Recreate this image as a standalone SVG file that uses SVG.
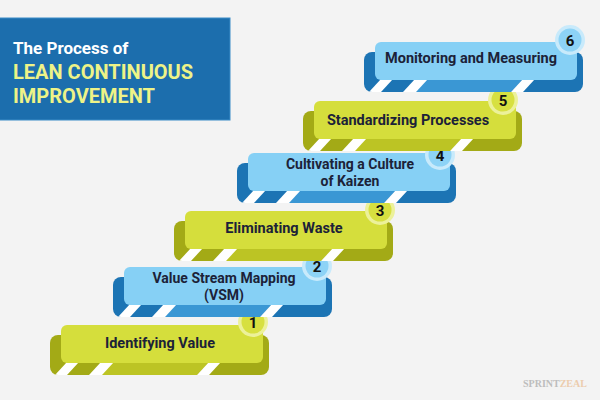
<svg xmlns="http://www.w3.org/2000/svg" width="600" height="400" viewBox="0 0 600 400">
<defs>
<clipPath id="band"><rect x="-11" y="10" width="219" height="40" rx="8"/></clipPath>
<style>
.lbl{font-family:Roboto,"Liberation Sans",sans-serif;font-weight:700;font-size:14.5px;text-anchor:middle;fill:#1c2238}
.sm{font-size:14px}
.num{font-family:Roboto,"Liberation Sans",sans-serif;font-weight:700;font-size:15px;text-anchor:middle;fill:#111}
.wh{fill:#ffffff}
.olive .back{fill:#a3aa16}
.olive .mid{fill:#bcc424}
.olive .front{fill:#d5de3c}
.olive .ring{fill:#ecf19a}
.olive .inner{fill:#d7e040}
.blue .back{fill:#1c74b4}
.blue .mid{fill:#3a97d4}
.blue .front{fill:#86d0f5}
.blue .ring{fill:#c8eafb}
.blue .inner{fill:#8dd3f6}
.ttl{font-family:Roboto,"Liberation Sans",sans-serif;font-weight:700}
</style>
</defs>
<rect x="0" y="0" width="600" height="400" fill="#f3f3f3"/>

<g id="title">
<rect x="-1" y="18" width="231" height="102" fill="#1c6ead" stroke="#3b8cc7" stroke-width="1"/>
<text class="ttl" x="13" y="54" font-size="17" fill="#ffffff">The Process of</text>
<text class="ttl" x="13" y="79" font-size="20" fill="#eef387">LEAN CONTINUOUS</text>
<text class="ttl" x="13" y="103" font-size="20" fill="#eef387">IMPROVEMENT</text>
</g>

<g id="step1" class="olive" transform="translate(61,325)">
<rect class="back" x="-11" y="10" width="219" height="40" rx="8"/>
<g clip-path="url(#band)">
<polygon class="mid" points="40,50 52,37 148,37 136,50"/>
<polygon class="wh" points="-6,50 6,37 18,37 6,50"/>
<polygon class="wh" points="28,50 40,37 53,37 41,50"/>
<polygon class="wh" points="136,50 148,37 160,37 148,50"/>
</g>
<rect class="front" x="0" y="0" width="202" height="38" rx="6"/>
<text class="lbl" x="99" y="23">Identifying Value</text>
<circle class="ring" cx="192" cy="-3" r="15"/>
<circle class="inner" cx="192" cy="-3" r="11.5"/>
<text class="num" x="192" y="2.5">1</text>
</g>

<g id="step2" class="blue" transform="translate(124,267)">
<rect class="back" x="-11" y="10" width="219" height="40" rx="8"/>
<g clip-path="url(#band)">
<polygon class="mid" points="40,50 52,37 148,37 136,50"/>
<polygon class="wh" points="-6,50 6,37 18,37 6,50"/>
<polygon class="wh" points="28,50 40,37 53,37 41,50"/>
<polygon class="wh" points="136,50 148,37 160,37 148,50"/>
</g>
<rect class="front" x="0" y="0" width="202" height="38" rx="6"/>
<text class="lbl sm" x="100" y="16">Value Stream Mapping</text>
<text class="lbl sm" x="100" y="33">(VSM)</text>
<circle class="ring" cx="193" cy="-1" r="15"/>
<circle class="inner" cx="193" cy="-1" r="11.5"/>
<text class="num" x="193" y="4.5">2</text>
</g>

<g id="step3" class="olive" transform="translate(185,211)">
<rect class="back" x="-11" y="10" width="219" height="40" rx="8"/>
<g clip-path="url(#band)">
<polygon class="mid" points="40,50 52,37 148,37 136,50"/>
<polygon class="wh" points="-6,50 6,37 18,37 6,50"/>
<polygon class="wh" points="28,50 40,37 53,37 41,50"/>
<polygon class="wh" points="136,50 148,37 160,37 148,50"/>
</g>
<rect class="front" x="0" y="0" width="202" height="38" rx="6"/>
<text class="lbl" x="99" y="22">Eliminating Waste</text>
<circle class="ring" cx="195" cy="-1" r="15"/>
<circle class="inner" cx="195" cy="-1" r="11.5"/>
<text class="num" x="195" y="4.5">3</text>
</g>

<g id="step4" class="blue" transform="translate(248,153)">
<rect class="back" x="-11" y="10" width="219" height="40" rx="8"/>
<g clip-path="url(#band)">
<polygon class="mid" points="40,50 52,37 148,37 136,50"/>
<polygon class="wh" points="-6,50 6,37 18,37 6,50"/>
<polygon class="wh" points="28,50 40,37 53,37 41,50"/>
<polygon class="wh" points="136,50 148,37 160,37 148,50"/>
</g>
<rect class="front" x="0" y="0" width="202" height="38" rx="6"/>
<text class="lbl sm" x="102" y="16">Cultivating a Culture</text>
<text class="lbl sm" x="102" y="33">of Kaizen</text>
<circle class="ring" cx="192" cy="2" r="15"/>
<circle class="inner" cx="192" cy="2" r="11.5"/>
<text class="num" x="192" y="7.5">4</text>
</g>

<g id="step5" class="olive" transform="translate(314,101)">
<rect class="back" x="-11" y="10" width="219" height="40" rx="8"/>
<g clip-path="url(#band)">
<polygon class="mid" points="40,50 52,37 148,37 136,50"/>
<polygon class="wh" points="-6,50 6,37 18,37 6,50"/>
<polygon class="wh" points="28,50 40,37 53,37 41,50"/>
<polygon class="wh" points="136,50 148,37 160,37 148,50"/>
</g>
<rect class="front" x="0" y="0" width="202" height="38" rx="6"/>
<text class="lbl" x="94" y="24">Standardizing Processes</text>
<circle class="ring" cx="189" cy="-1" r="15"/>
<circle class="inner" cx="189" cy="-1" r="11.5"/>
<text class="num" x="189" y="4.5">5</text>
</g>

<g id="step6" class="blue" transform="translate(375,42)">
<rect class="back" x="-11" y="10" width="219" height="40" rx="8"/>
<g clip-path="url(#band)">
<polygon class="mid" points="40,50 52,37 148,37 136,50"/>
<polygon class="wh" points="-6,50 6,37 18,37 6,50"/>
<polygon class="wh" points="28,50 40,37 53,37 41,50"/>
<polygon class="wh" points="136,50 148,37 160,37 148,50"/>
</g>
<rect class="front" x="0" y="0" width="202" height="38" rx="6"/>
<text class="lbl" x="96" y="21">Monitoring and Measuring</text>
<circle class="ring" cx="195" cy="-2" r="15"/>
<circle class="inner" cx="195" cy="-2" r="11.5"/>
<text class="num" x="195" y="3.5">6</text>
</g>

<g id="logo">
<text x="523" y="387" font-family="'Liberation Serif',serif" font-weight="700" font-size="10" fill="#bdbdbd">SPRINT<tspan fill="#ecccad">ZEAL</tspan></text>
</g>
</svg>
